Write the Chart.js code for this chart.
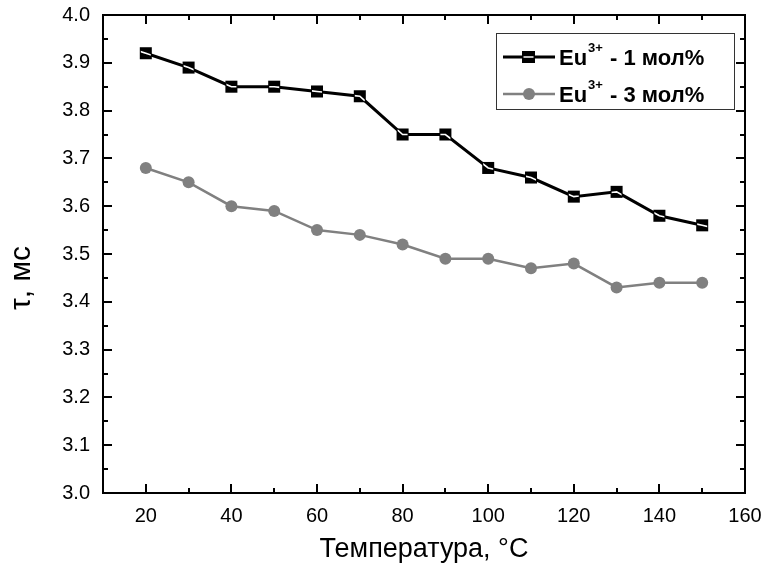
<!DOCTYPE html>
<html>
<head>
<meta charset="utf-8">
<script src="https://cdn.jsdelivr.net/npm/chart.js@4/dist/chart.umd.min.js"></script>
<style>
  html, body { margin: 0; padding: 0; background: #fff; }
  .chart__container { position: relative; width: 764px; height: 572px; }
</style>
</head>
<body>
<div class="chart__container">
  <canvas id="chart" width="764" height="572"></canvas>
</div>
<script>
const temps = [20, 30, 40, 50, 60, 70, 80, 90, 100, 110, 120, 130, 140, 150];
const eu1 = [3.92, 3.89, 3.85, 3.85, 3.84, 3.83, 3.75, 3.75, 3.68, 3.66, 3.62, 3.63, 3.58, 3.56];
const eu3 = [3.68, 3.65, 3.60, 3.59, 3.55, 3.54, 3.52, 3.49, 3.49, 3.47, 3.48, 3.43, 3.44, 3.44];
const xTicks = [20, 40, 60, 80, 100, 120, 140, 160];
const xMinor = [30, 50, 70, 90, 110, 130, 150];
const yTicks = [3.0, 3.1, 3.2, 3.3, 3.4, 3.5, 3.6, 3.7, 3.8, 3.9, 4.0];
const yMinor = [3.05, 3.15, 3.25, 3.35, 3.45, 3.55, 3.65, 3.75, 3.85, 3.95];
const seriesLabels = ['1 мол%', '3 мол%'];

const FONT = "'Liberation Sans', Arial, sans-serif";
const GRAY = '#808080';

// frame with inward ticks on all four sides, plus the y title
const framePlugin = {
  id: 'frame',
  afterDraw(chart) {
    const { ctx, chartArea: a, scales: { x, y } } = chart;
    ctx.save();
    ctx.strokeStyle = '#000';
    ctx.lineWidth = 2;
    ctx.strokeRect(a.left, a.top, a.right - a.left, a.bottom - a.top);
    ctx.beginPath();
    const tx = (vals, len) => vals.forEach((v) => {
      const px = Math.round(x.getPixelForValue(v));
      ctx.moveTo(px, a.bottom); ctx.lineTo(px, a.bottom - len);
      ctx.moveTo(px, a.top); ctx.lineTo(px, a.top + len);
    });
    const ty = (vals, len) => vals.forEach((v) => {
      const py = Math.round(y.getPixelForValue(v));
      ctx.moveTo(a.left, py); ctx.lineTo(a.left + len, py);
      ctx.moveTo(a.right, py); ctx.lineTo(a.right - len, py);
    });
    tx(xTicks, 9); tx(xMinor, 5);
    ty(yTicks, 9); ty(yMinor, 5);
    ctx.stroke();

    ctx.translate(22, 278);
    ctx.rotate(-Math.PI / 2);
    ctx.fillStyle = '#000';
    ctx.font = `30px ${FONT}`;
    ctx.textAlign = 'center';
    ctx.textBaseline = 'middle';
    ctx.fillText('τ, мс', 0, 0);
    ctx.restore();
  },
};

// white line through the square markers, like the original
function whiteCore(ctx, cx, cy, half, pts) {
  ctx.save();
  ctx.beginPath();
  ctx.rect(cx - half, cy - half, half * 2, half * 2);
  ctx.clip();
  ctx.strokeStyle = '#fff';
  ctx.lineWidth = 1.6;
  ctx.beginPath();
  ctx.moveTo(pts[0][0], pts[0][1]);
  for (let i = 1; i < pts.length; i++) ctx.lineTo(pts[i][0], pts[i][1]);
  ctx.stroke();
  ctx.restore();
}

const squarePlugin = {
  id: 'squareCore',
  afterDatasetsDraw(chart) {
    const pts = chart.getDatasetMeta(0).data;
    pts.forEach((p, i) => {
      const path = [];
      if (i > 0) path.push([pts[i - 1].x, pts[i - 1].y]);
      path.push([p.x, p.y]);
      if (i < pts.length - 1) path.push([pts[i + 1].x, pts[i + 1].y]);
      if (path.length === 2 && i === 0) {
        const [b, c] = path;
        path.unshift([2 * b[0] - c[0], 2 * b[1] - c[1]]);
      } else if (path.length === 2) {
        const [a, b] = path;
        path.push([2 * b[0] - a[0], 2 * b[1] - a[1]]);
      }
      whiteCore(chart.ctx, p.x, p.y, 5, path);
    });
  },
};

// boxed legend inside the plot
const legendPlugin = {
  id: 'boxLegend',
  afterDraw(chart) {
    const { ctx } = chart;
    const bx = 496; const by = 33; const bw = 238; const bh = 76;
    ctx.save();
    ctx.fillStyle = '#fff';
    ctx.fillRect(bx, by, bw, bh);
    ctx.strokeStyle = '#333';
    ctx.lineWidth = 1;
    ctx.strokeRect(bx + 0.5, by + 0.5, bw, bh);
    const rows = [57, 94];
    chart.data.datasets.forEach((ds, i) => {
      const ry = rows[i];
      ctx.strokeStyle = ds.borderColor;
      ctx.lineWidth = ds.borderWidth;
      ctx.beginPath();
      ctx.moveTo(503, ry); ctx.lineTo(555, ry);
      ctx.stroke();
      ctx.fillStyle = ds.pointBackgroundColor;
      if (i === 0) {
        ctx.fillRect(522, ry - 6, 13, 12);
        whiteCore(ctx, 528.5, ry, 5, [[503, ry], [555, ry]]);
      } else {
        ctx.beginPath();
        ctx.arc(529, ry, 6, 0, Math.PI * 2);
        ctx.fill();
      }
      ctx.fillStyle = '#000';
      ctx.textBaseline = 'alphabetic';
      ctx.textAlign = 'left';
      ctx.font = `bold 22px ${FONT}`;
      let tx = 559;
      ctx.fillText('Eu', tx, ry + 8);
      tx += ctx.measureText('Eu').width + 1;
      ctx.font = `bold 13px ${FONT}`;
      ctx.fillText('3+', tx, ry - 5);
      tx += ctx.measureText('3+').width + 1;
      ctx.font = `bold 22px ${FONT}`;
      ctx.fillText(' - ' + seriesLabels[i], tx, ry + 8);
    });
    ctx.restore();
  },
};

new Chart(document.getElementById('chart').getContext('2d'), {
  type: 'line',
  data: {
    datasets: [{
      label: 'Eu3+ - 1 мол%',
      data: temps.map((t, i) => ({ x: t, y: eu1[i] })),
      borderColor: '#000',
      borderWidth: 3,
      pointStyle: 'rect',
      pointRadius: 8.5,
      pointBorderWidth: 0,
      pointBackgroundColor: '#000',
      pointBorderColor: '#000',
      tension: 0,
    }, {
      label: 'Eu3+ - 3 мол%',
      data: temps.map((t, i) => ({ x: t, y: eu3[i] })),
      borderColor: GRAY,
      borderWidth: 2.5,
      pointStyle: 'circle',
      pointRadius: 6,
      pointBorderWidth: 0,
      pointBackgroundColor: GRAY,
      pointBorderColor: GRAY,
      tension: 0,
    }],
  },
  options: {
    responsive: false,
    animation: false,
    layout: { padding: { left: 0, right: 19, top: 15, bottom: 0 } },
    plugins: {
      legend: { display: false },
      tooltip: { enabled: false },
    },
    scales: {
      x: {
        type: 'linear',
        min: 10,
        max: 160,
        afterFit: (s) => { s.height = 79; s.paddingLeft = 0; s.paddingRight = 0; },
        afterBuildTicks: (s) => { s.ticks = xTicks.map((v) => ({ value: v })); },
        grid: { display: false, drawTicks: false },
        border: { display: false },
        ticks: { color: '#000', padding: 11, maxRotation: 0, font: { family: FONT, size: 20 } },
        title: {
          display: true,
          text: 'Температура, °C',
          color: '#000',
          padding: { top: 0, bottom: 6 },
          font: { family: FONT, size: 27 },
        },
      },
      y: {
        min: 3.0,
        max: 4.0,
        afterFit: (s) => { s.width = 103; s.paddingTop = 0; s.paddingBottom = 0; },
        afterBuildTicks: (s) => { s.ticks = yTicks.map((v) => ({ value: v })); },
        grid: { display: false, drawTicks: false },
        border: { display: false },
        ticks: {
          color: '#000',
          padding: 13,
          font: { family: FONT, size: 20 },
          callback: (v) => Number(v).toFixed(1),
        },
      },
    },
  },
  plugins: [squarePlugin, framePlugin, legendPlugin],
});
</script>
</body>
</html>
